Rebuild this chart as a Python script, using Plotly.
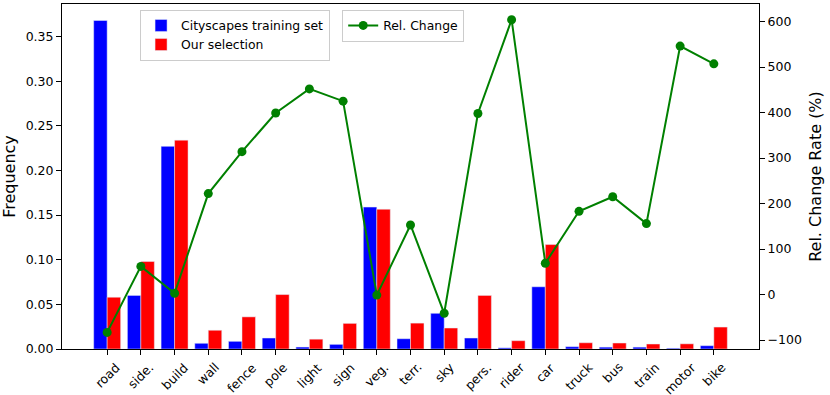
"""Cityscapes class frequency: training set vs our selection, with relative change."""
import plotly.graph_objects as go

classes = ["road", "side.", "build", "wall", "fence", "pole", "light", "sign", "veg.",
           "terr.", "sky", "pers.", "rider", "car", "truck", "bus", "train", "motor", "bike"]

cityscapes_freq = [0.368, 0.060, 0.227, 0.0064, 0.0086, 0.0123, 0.0022, 0.0052, 0.159,
                   0.0115, 0.040, 0.0123, 0.0013, 0.0697, 0.0026, 0.0021, 0.0021, 0.0009, 0.0037]
selection_freq = [0.058, 0.098, 0.234, 0.021, 0.036, 0.061, 0.011, 0.0287, 0.1566,
                  0.029, 0.0235, 0.060, 0.0093, 0.117, 0.007, 0.0067, 0.0056, 0.0058, 0.0246]
rel_change = [-83, 62, 3, 222, 314, 399, 452, 425, -1,
              153, -41, 398, 604, 69, 183, 215, 156, 546, 507]

FONT = "DejaVu Sans"
GREEN = "#008000"

fig = go.Figure()
fig.add_trace(go.Bar(
    name="Cityscapes training set", x=classes, y=cityscapes_freq,
    marker_color="#0000ff", legend="legend",
))
fig.add_trace(go.Bar(
    name="Our selection", x=classes, y=selection_freq,
    marker_color="#ff0000", legend="legend",
))
fig.add_trace(go.Scatter(
    name="Rel. Change", x=classes, y=rel_change, yaxis="y2",
    mode="lines+markers", line=dict(color=GREEN, width=2),
    marker=dict(color=GREEN, size=9), legend="legend2",
))

axis_common = dict(
    showline=True, linecolor="black", linewidth=1, ticks="outside",
    ticklen=5, tickcolor="black", showgrid=False, zeroline=False,
    tickfont=dict(family=FONT, size=12.5, color="black"), automargin=False,
)

# matplotlib-style rotated labels are centred under their tick; plotly would
# anchor the end of the text instead, so draw them as annotations
for name in classes:
    fig.add_annotation(
        x=name, y=0, xref="x", yref="paper", text=name, showarrow=False,
        textangle=-45, xanchor="center", yanchor="top", yshift=-8,
        font=dict(family=FONT, size=12.5, color="black"),
    )

fig.update_layout(
    width=830, height=395,
    margin=dict(l=62, r=71, t=4, b=46),
    paper_bgcolor="white", plot_bgcolor="white",
    barmode="group", bargap=0.2, bargroupgap=0,
    font=dict(family=FONT, color="black"),
    xaxis=dict(axis_common, range=[-1.34, 19.34], showticklabels=False, mirror=True),
    yaxis=dict(axis_common, range=[0, 0.3865], tickvals=[0, 0.05, 0.1, 0.15, 0.2, 0.25, 0.3, 0.35],
               tickformat=".2f",
               title=dict(text="Frequency", font=dict(family=FONT, size=16), standoff=6)),
    yaxis2=dict(axis_common, overlaying="y", side="right", range=[-119.5, 638.5], dtick=100,
                title=dict(text="Rel. Change Rate (%)", font=dict(family=FONT, size=16), standoff=8)),
    legend=dict(x=0.112, y=0.983, xanchor="left", yanchor="top",
                bgcolor="rgba(255,255,255,0.8)", bordercolor="#cccccc", borderwidth=1,
                font=dict(family=FONT, size=12.4), tracegroupgap=0),
    legend2=dict(x=0.402, y=0.983, xanchor="left", yanchor="top",
                 bgcolor="rgba(255,255,255,0.8)", bordercolor="#cccccc", borderwidth=1,
                 font=dict(family=FONT, size=12.4)),
    showlegend=True,
)

# the page body has a default 8px margin; drop it so the chart fills the window
fig.write_html("out.html", config={"displayModeBar": False},
               post_script="document.body.style.margin='0';")
